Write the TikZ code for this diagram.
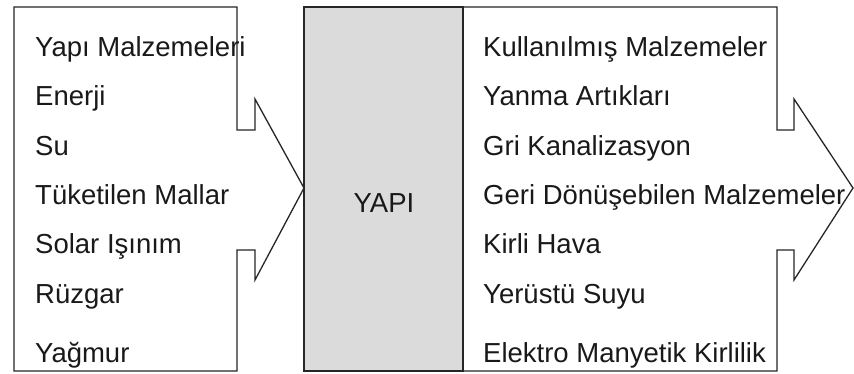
\documentclass[tikz,border=0pt]{standalone}
\usepackage{fontspec}
\setmainfont{Liberation Sans}
\begin{document}
\begin{tikzpicture}[x=1pt,y=-1pt,
  outline/.style={draw=black!85,line width=1.3pt,line join=miter},
  lbl/.style={anchor=base west,inner sep=0pt,font=\fontsize{27.5}{33}\selectfont,text=black!90}]
\useasboundingbox (0,0) rectangle (854,374);
% input arrow
\draw[outline,fill=white] (14,7) -- (237,7) -- (237,130) -- (255,130) -- (255,99) -- (304,188)
  -- (255,280) -- (255,250) -- (237,250) -- (237,371) -- (14,371) -- cycle;
% output arrow
\draw[outline,fill=white] (463,7) -- (777,7) -- (777,130) -- (794,130) -- (794,99) -- (853,188)
  -- (794,280) -- (794,250) -- (777,250) -- (777,371) -- (463,371) -- cycle;
% building box
\draw[outline,fill=black!14] (304,7) rectangle (463,371);
\node[lbl,anchor=base] (yapi) at (384,213) {YAPI};
% inputs
\node[lbl] (i1) at (35,57) {Yapı Malzemeleri};
\node[lbl] (i2) at (35,106) {Enerji};
\node[lbl] (i3) at (35,156) {Su};
\node[lbl] (i4) at (35,205) {Tüketilen Mallar};
\node[lbl] (i5) at (35,254) {Solar Işınım};
\node[lbl] (i6) at (35,303) {Rüzgar};
\node[lbl] (i7) at (35,362) {Yağmur};
% outputs
\node[lbl] (o1) at (483,57) {Kullanılmış Malzemeler};
\node[lbl] (o2) at (483,106) {Yanma Artıkları};
\node[lbl] (o3) at (483,156) {Gri Kanalizasyon};
\node[lbl] (o4) at (483,205) {Geri Dönüşebilen Malzemeler};
\node[lbl] (o5) at (483,254) {Kirli Hava};
\node[lbl] (o6) at (483,303) {Yerüstü Suyu};
\node[lbl] (o7) at (483,362) {Elektro Manyetik Kirlilik};
\end{tikzpicture}
\end{document}
